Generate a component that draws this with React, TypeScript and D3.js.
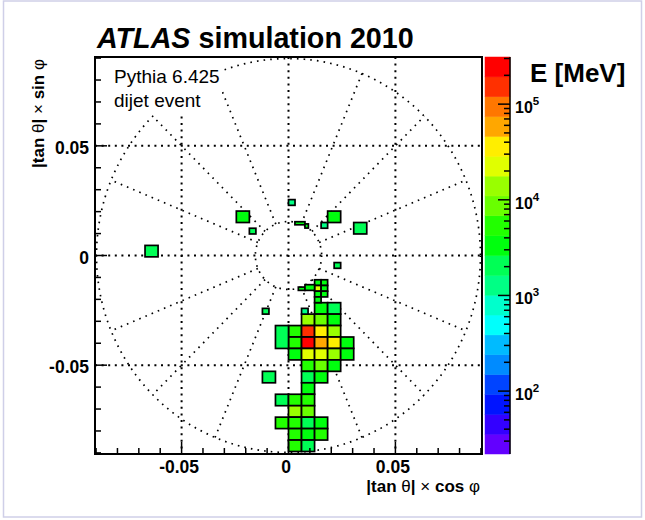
import React from "react";
import * as d3 from "d3";

// plot window in |tan theta| units, colour axis in MeV
const xDomain = [-0.0905, 0.0905];
const yDomain = [-0.0905, 0.0905];
const zRange = [22, 311000];

const majorTicks = [-0.05, 0, 0.05];
const majorLabels = ["-0.05", "0", "0.05"];
const zDecades = [2, 3, 4, 5];

// FCal outline (dotted)
const innerRadius = 0.0155;
const outerRadius = 0.0898;
const nSectors = 16;

// cell grid
const cellWidth = 0.0061;
const cellHeight = 0.00522;
const rowOrigin = -0.0215;

// [column, row, energy MeV]
const fcalCells = [
  [-11, -5, 2100], [-4, -8, 3300], [3, -8, 3000], [5, -7, 2200], [-2, 6, 2000],
  [2, 0, 3500], [3, 0, 2300],
  [1, 1, 12500], [2, 1, 8000], [3, 1, 3600],
  [0, 2, 5200], [1, 2, 160000], [2, 2, 36000], [3, 2, 14000],
  [0, 3, 5600], [1, 3, 311000], [2, 3, 62000], [3, 3, 38000], [4, 3, 3200],
  [0, 4, 3800], [1, 4, 23000], [2, 4, 21000], [3, 4, 13000], [4, 4, 3500],
  [1, 5, 5500], [2, 5, 9000], [3, 5, 3400],
  [1, 6, 2100], [2, 6, 3100],
  [1, 7, 3600],
  [-1, 8, 2000], [0, 8, 5000], [1, 8, 4800],
  [0, 9, 14500], [1, 9, 8500],
  [-1, 10, 4600], [0, 10, 4400], [1, 10, 2200], [2, 10, 3300],
  [0, 11, 5000], [1, 11, 3000], [2, 11, 4700],
  [0, 12, 4900], [1, 12, 2000],
];

// cells two rows high: [column, top row, energy]
const tallCells = [[-1, 2, 2300]];

// half-size cells: [half column, half row, energy]
const fineCells = [
  [4, -4, 3100], [5, -4, 3400], [4, -3, 24000], [5, -3, 3000],
  [4, -2, 3500], [5, -2, 3200], [4, -1, 3300],
  [2, 1, 1400], [0, -18, 1300], [-6, -13, 2000], [5, -14, 1450],
  [7, -7, 2100], [-4, 1, 2000],
];

// partial cells at the beam hole: [x0, x1, y0, y1, energy]
const edgeCells = [
  [0.003, 0.0077, 0.014, 0.0154, 3300],
  [0.0077, 0.0093, 0.0125, 0.0144, 3000],
  [0.0046, 0.0077, -0.0159, -0.0144, 3400],
  [0.0077, 0.0122, -0.0159, -0.0133, 3200],
];

const FONT = "'Liberation Sans', Arial, Helvetica, sans-serif";

const frame = { left: 95, right: 482, top: 57, bottom: 454 };
const bar = { left: 485, right: 510 };

// ROOT "pretty" palette: 50 colours, 20 contour levels
const palette = d3.range(50).map(i => d3.hsl(280 - (i + 1) * 5.6, 1, 0.5).formatHex());
const nLevels = 20;
const levelColor = j => palette[Math.floor(((j + 0.99) * palette.length) / nLevels)];

export default function App() {
  const x = d3.scaleLinear().domain(xDomain).range([frame.left, frame.right]);
  const y = d3.scaleLinear().domain(yDomain).range([frame.bottom, frame.top]);
  const z = d3.scaleLog().domain(zRange).range([frame.bottom, frame.top]);

  const lz0 = Math.log10(zRange[0]);
  const lz1 = Math.log10(zRange[1]);
  const colorOf = e => {
    const j = Math.floor(((Math.log10(e) - lz0) / (lz1 - lz0)) * nLevels);
    return levelColor(Math.max(0, Math.min(nLevels - 1, j)));
  };

  // collect all bins as data-space boxes
  const bins = [];
  fcalCells.forEach(([c, r, e]) =>
    bins.push([c * cellWidth, (c + 1) * cellWidth, rowOrigin - (r + 1) * cellHeight, rowOrigin - r * cellHeight, e])
  );
  tallCells.forEach(([c, r, e]) =>
    bins.push([c * cellWidth, (c + 1) * cellWidth, rowOrigin - (r + 2) * cellHeight, rowOrigin - r * cellHeight, e])
  );
  fineCells.forEach(([c, r, e]) =>
    bins.push([
      (c * cellWidth) / 2,
      ((c + 1) * cellWidth) / 2,
      rowOrigin - ((r + 1) * cellHeight) / 2,
      rowOrigin - (r * cellHeight) / 2,
      e,
    ])
  );
  edgeCells.forEach(b => bins.push(b));

  const minorTicks = d3.range(-9, 10).map(i => i / 100);
  const cx = x(0);
  const cy = y(0);

  const radials = d3
    .range(nSectors)
    .filter(k => k % 4 !== 0)
    .map(k => {
      const a = (k * 2 * Math.PI) / nSectors;
      return [
        [x(innerRadius * Math.cos(a)), y(innerRadius * Math.sin(a))],
        [x(outerRadius * Math.cos(a)), y(outerRadius * Math.sin(a))],
      ];
    });

  const zMinor = [];
  [1, 2, 3, 4, 5].forEach(d =>
    d3.range(1, 10).forEach(m => {
      const v = m * Math.pow(10, d);
      if (v >= zRange[0] && v <= zRange[1]) zMinor.push(v);
    })
  );
  const zLevels = d3.range(nLevels).map(j => [
    Math.pow(10, lz0 + ((lz1 - lz0) * j) / nLevels),
    Math.pow(10, lz0 + ((lz1 - lz0) * (j + 1)) / nLevels),
  ]);

  const dotted = { stroke: "#000", strokeWidth: 1.7, strokeDasharray: "1.6 5.1", fill: "none" };
  const grid = { stroke: "#000", strokeWidth: 2, strokeDasharray: "2 4.6", fill: "none" };

  return (
    <div style={{ position: "absolute", left: 0, top: 0 }}>
      <svg width={645} height={520} style={{ display: "block", background: "#fff" }} fontFamily={FONT}>
        <rect x={3.5} y={1} width={638} height={516} fill="none" stroke="#cfcfe8" strokeWidth={1.5} />

        {/* title */}
        <text x={97} y={48} fontSize={28.7} fontWeight="bold">
          <tspan fontStyle="italic">ATLAS</tspan> simulation 2010
        </text>

        {/* grid */}
        {majorTicks.map(v => (
          <g key={"g" + v}>
            <line x1={x(v)} x2={x(v)} y1={frame.top} y2={frame.bottom} style={grid} />
            <line x1={frame.left} x2={frame.right} y1={y(v)} y2={y(v)} style={grid} />
          </g>
        ))}

        {/* detector outline */}
        <ellipse cx={cx} cy={cy} rx={x(outerRadius) - cx} ry={cy - y(outerRadius)} style={dotted} />
        <ellipse cx={cx} cy={cy} rx={x(innerRadius) - cx} ry={cy - y(innerRadius)} style={dotted} />
        {radials.map((p, i) => (
          <line key={"r" + i} x1={p[0][0]} y1={p[0][1]} x2={p[1][0]} y2={p[1][1]} style={dotted} />
        ))}

        {/* text box */}
        <rect x={97} y={58} width={125} height={55} fill="#fff" />
        <text x={114} y={83} fontSize={19}>Pythia 6.425</text>
        <text x={114} y={107} fontSize={19}>dijet event</text>

        {/* cells */}
        {bins.map((b, i) => (
          <rect
            key={"c" + i}
            x={x(b[0])}
            y={y(b[3])}
            width={x(b[1]) - x(b[0])}
            height={y(b[2]) - y(b[3])}
            fill={colorOf(b[4])}
            stroke="#000"
            strokeWidth={1.7}
          />
        ))}

        {/* frame and axes */}
        <rect
          x={frame.left}
          y={frame.top}
          width={frame.right - frame.left}
          height={frame.bottom - frame.top}
          fill="none"
          stroke="#000"
          strokeWidth={2}
        />
        {minorTicks.map(v => {
          const major = majorTicks.some(m => Math.abs(m - v) < 1e-9);
          const len = major ? 12 : 6;
          return (
            <g key={"t" + v} stroke="#000" strokeWidth={1.5}>
              <line x1={x(v)} x2={x(v)} y1={frame.bottom} y2={frame.bottom - len} />
              <line x1={frame.left} x2={frame.left + len} y1={y(v)} y2={y(v)} />
            </g>
          );
        })}
        {majorTicks.map((v, i) => (
          <g key={"l" + v} fontSize={17.5} fontWeight="bold">
            <text x={x(v) - 2.5} y={473} textAnchor="middle">{majorLabels[i]}</text>
            <text x={89} y={y(v) + 8} textAnchor="end">{majorLabels[i]}</text>
          </g>
        ))}
        <text x={480} y={492} fontSize={17} fontWeight="bold" textAnchor="end">
          |tan <tspan fontWeight="normal">θ</tspan>| <tspan fontWeight="normal">×</tspan> cos{" "}
          <tspan fontWeight="normal">φ</tspan>
        </text>
        <text transform="translate(44,59) rotate(-90)" fontSize={17} fontWeight="bold" textAnchor="end">
          |tan <tspan fontWeight="normal">θ</tspan>| <tspan fontWeight="normal">×</tspan> sin{" "}
          <tspan fontWeight="normal">φ</tspan>
        </text>

        {/* colour bar */}
        {zLevels.map((lv, j) => (
          <rect
            key={"z" + j}
            x={bar.left}
            y={z(lv[1])}
            width={bar.right - bar.left}
            height={z(lv[0]) - z(lv[1])}
            fill={levelColor(j)}
            stroke={levelColor(j)}
            strokeWidth={0.5}
          />
        ))}
        <line x1={bar.right} x2={bar.right} y1={frame.top} y2={frame.bottom} stroke="#000" strokeWidth={1.5} />
        {zMinor.map(v => {
          const major = zDecades.some(d => Math.abs(Math.log10(v) - d) < 1e-9);
          return (
            <line
              key={"zt" + v}
              x1={bar.right}
              x2={bar.right - (major ? 12 : 6)}
              y1={z(v)}
              y2={z(v)}
              stroke="#000"
              strokeWidth={1.5}
            />
          );
        })}
        {zDecades.map(d => (
          <text key={"zl" + d} x={515} y={z(Math.pow(10, d)) + 9} fontSize={16} fontWeight="bold">
            10<tspan dy={-8} fontSize={11.5}>{d}</tspan>
          </text>
        ))}
        <text x={530} y={82} fontSize={26} fontWeight="bold">E [MeV]</text>
      </svg>
    </div>
  );
}
